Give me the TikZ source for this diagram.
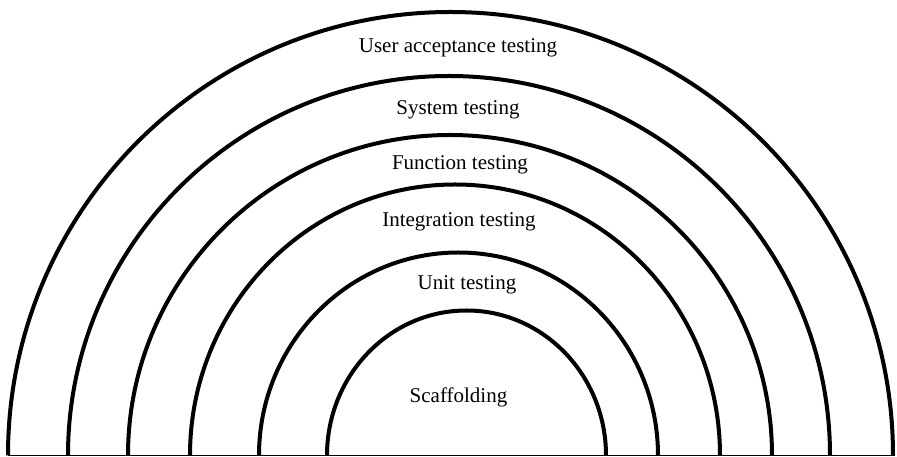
\documentclass[tikz,border=0pt]{standalone}
\usepackage{fontspec}
\setmainfont{Liberation Serif}
\begin{document}
\begin{tikzpicture}[x=1pt,y=1pt,
  ring/.style={line width=4pt, black},
  lbl/.style={font=\fontsize{21}{24}\selectfont, anchor=base, inner sep=0pt}]
\useasboundingbox (0,0) rectangle (897,457);
% baseline
\draw[line width=1pt] (8,1.5) -- (895,1.5);
% rings (x0 = left end, radii)
\draw[ring] (8,1.5) arc[start angle=180, end angle=0, x radius=442.5, y radius=443.5];
\draw[ring] (68,1.5) arc[start angle=180, end angle=0, x radius=381, y radius=379.5];
\draw[ring] (128,1.5) arc[start angle=180, end angle=0, x radius=322, y radius=320.5];
\draw[ring] (190,1.5) arc[start angle=180, end angle=0, x radius=265, y radius=271];
\draw[ring] (259,1.5) arc[start angle=180, end angle=0, x radius=199.5, y radius=203];
\draw[ring] (327,1.5) arc[start angle=180, end angle=0, x radius=139.5, y radius=145];
% labels
\node[lbl] (uat) at (458,404) {User acceptance testing};
\node[lbl] (sys) at (458,342) {System testing};
\node[lbl] (fun) at (460,287) {Function testing};
\node[lbl] (int) at (459,230) {Integration testing};
\node[lbl] (unit) at (467,167) {Unit testing};
\node[lbl] (scaf) at (458.5,54) {Scaffolding};
\end{tikzpicture}
\end{document}
